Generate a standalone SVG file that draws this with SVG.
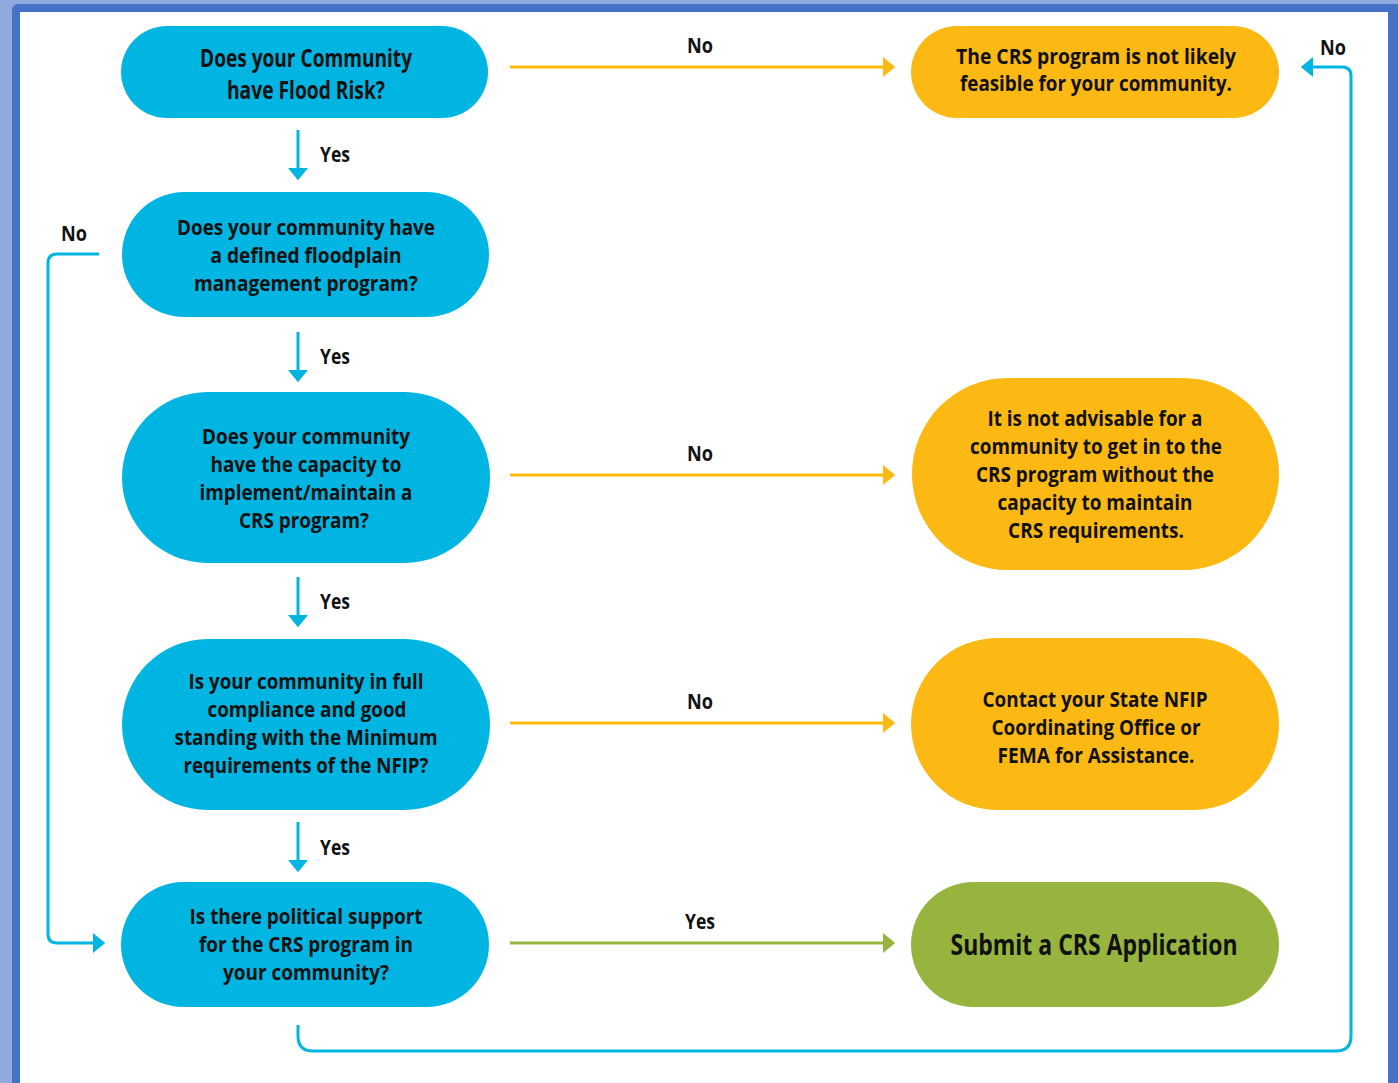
<svg xmlns="http://www.w3.org/2000/svg" width="1398" height="1083" viewBox="0 0 1398 1083">
<style>
.q{fill:#00B5E2}
.o{fill:#FDB913}
.g{fill:#97B53E}
.t{font-family:"Open Sans","Liberation Sans",sans-serif;font-weight:bold;font-size:21px;fill:#111;text-anchor:middle}
.big{font-size:25px}
.huge{font-size:29px}
.lbl{font-family:"Open Sans","Liberation Sans",sans-serif;font-weight:bold;font-size:21px;fill:#111;text-anchor:middle}
.cb{fill:none;stroke:#00B5E2;stroke-width:3}
.co{fill:none;stroke:#FDB913;stroke-width:3}
.cg{fill:none;stroke:#97B53E;stroke-width:3}
</style>
<defs>
<marker id="ab" markerUnits="userSpaceOnUse" markerWidth="14" markerHeight="20" refX="0" refY="9" orient="auto" viewBox="0 0 12 18"><path d="M0,0 L11,9 L0,18 z" fill="#00B5E2"/></marker>
<marker id="ao" markerUnits="userSpaceOnUse" markerWidth="14" markerHeight="20" refX="0" refY="9" orient="auto" viewBox="0 0 12 18"><path d="M0,0 L11,9 L0,18 z" fill="#FDB913"/></marker>
<marker id="ag" markerUnits="userSpaceOnUse" markerWidth="14" markerHeight="20" refX="0" refY="9" orient="auto" viewBox="0 0 12 18"><path d="M0,0 L11,9 L0,18 z" fill="#97B53E"/></marker>
</defs>
<rect x="0" y="0" width="1398" height="1083" fill="#8FAADC"/>
<rect x="12" y="4" width="1400" height="1100" rx="6" fill="#4472C4"/>
<rect x="20" y="12" width="1368" height="1090" fill="#FFFFFF"/>

<g id="connectors">
<path class="cb" d="M298,130 V168" marker-end="url(#ab)"/>
<path class="cb" d="M298,332 V370" marker-end="url(#ab)"/>
<path class="cb" d="M298,577 V615" marker-end="url(#ab)"/>
<path class="cb" d="M298,822 V860" marker-end="url(#ab)"/>
<path class="co" d="M510,67 H883" marker-end="url(#ao)"/>
<path class="co" d="M510,475 H883" marker-end="url(#ao)"/>
<path class="co" d="M510,723 H883" marker-end="url(#ao)"/>
<path class="cg" d="M510,943 H883" marker-end="url(#ag)"/>
<path class="cb" d="M99,254 H57 Q48,254 48,263 V934 Q48,943 57,943 H93" marker-end="url(#ab)"/>
<path class="cb" d="M298,1025 V1036 Q298,1051 313,1051 H1336 Q1351,1051 1351,1036 V76 Q1351,67 1342,67 H1313" marker-end="url(#ab)"/>
<text class="lbl" x="335" y="162" textLength="30" lengthAdjust="spacingAndGlyphs">Yes</text>
<text class="lbl" x="335" y="364" textLength="30" lengthAdjust="spacingAndGlyphs">Yes</text>
<text class="lbl" x="335" y="609" textLength="30" lengthAdjust="spacingAndGlyphs">Yes</text>
<text class="lbl" x="335" y="855" textLength="30" lengthAdjust="spacingAndGlyphs">Yes</text>
<text class="lbl" x="700" y="53" textLength="26" lengthAdjust="spacingAndGlyphs">No</text>
<text class="lbl" x="700" y="461" textLength="26" lengthAdjust="spacingAndGlyphs">No</text>
<text class="lbl" x="700" y="709" textLength="26" lengthAdjust="spacingAndGlyphs">No</text>
<text class="lbl" x="700" y="929" textLength="30" lengthAdjust="spacingAndGlyphs">Yes</text>
<text class="lbl" x="74" y="241" textLength="26" lengthAdjust="spacingAndGlyphs">No</text>
<text class="lbl" x="1333" y="55" textLength="26" lengthAdjust="spacingAndGlyphs">No</text>
</g>

<g id="n1">
<rect class="q" x="121" y="26" width="367" height="92" rx="46"/>
<text class="t big" x="306" y="67" textLength="212" lengthAdjust="spacingAndGlyphs">Does your Community</text>
<text class="t big" x="306" y="99" textLength="158" lengthAdjust="spacingAndGlyphs">have Flood Risk?</text>
</g>
<g id="n2">
<rect class="q" x="122" y="192" width="367" height="125" rx="62.5"/>
<text class="t" x="306" y="235" textLength="258" lengthAdjust="spacingAndGlyphs">Does your community have</text>
<text class="t" x="306" y="263" textLength="191" lengthAdjust="spacingAndGlyphs">a defined floodplain</text>
<text class="t" x="306" y="291" textLength="224" lengthAdjust="spacingAndGlyphs">management program?</text>
</g>
<g id="n3">
<rect class="q" x="122" y="392" width="368" height="171" rx="85.5"/>
<text class="t" x="306" y="444" textLength="208" lengthAdjust="spacingAndGlyphs">Does your community</text>
<text class="t" x="306" y="472" textLength="191" lengthAdjust="spacingAndGlyphs">have the capacity to</text>
<text class="t" x="306" y="500" textLength="213" lengthAdjust="spacingAndGlyphs">implement/maintain a</text>
<text class="t" x="304" y="528" textLength="130" lengthAdjust="spacingAndGlyphs">CRS program?</text>
</g>
<g id="n4">
<rect class="q" x="122" y="639" width="368" height="171" rx="85.5"/>
<text class="t" x="306" y="689" textLength="235" lengthAdjust="spacingAndGlyphs">Is your community in full</text>
<text class="t" x="307" y="717" textLength="199" lengthAdjust="spacingAndGlyphs">compliance and good</text>
<text class="t" x="306" y="745" textLength="263" lengthAdjust="spacingAndGlyphs">standing with the Minimum</text>
<text class="t" x="306" y="773" textLength="245" lengthAdjust="spacingAndGlyphs">requirements of the NFIP?</text>
</g>
<g id="n5">
<rect class="q" x="121" y="882" width="368" height="125" rx="62.5"/>
<text class="t" x="306" y="924" textLength="233" lengthAdjust="spacingAndGlyphs">Is there political support</text>
<text class="t" x="306" y="952" textLength="214" lengthAdjust="spacingAndGlyphs">for the CRS program in</text>
<text class="t" x="306" y="980" textLength="166" lengthAdjust="spacingAndGlyphs">your community?</text>
</g>
<g id="nA">
<rect class="o" x="911" y="26" width="368" height="92" rx="46"/>
<text class="t" x="1096" y="64" textLength="280" lengthAdjust="spacingAndGlyphs">The CRS program is not  likely</text>
<text class="t" x="1096" y="91" textLength="272" lengthAdjust="spacingAndGlyphs">feasible for your community.</text>
</g>
<g id="nB">
<rect class="o" x="912" y="378" width="367" height="192" rx="96"/>
<text class="t" x="1095" y="426" textLength="215" lengthAdjust="spacingAndGlyphs">It is not advisable for a</text>
<text class="t" x="1096" y="454" textLength="252" lengthAdjust="spacingAndGlyphs">community to get in to the</text>
<text class="t" x="1095" y="482" textLength="238" lengthAdjust="spacingAndGlyphs">CRS program without the</text>
<text class="t" x="1095" y="510" textLength="195" lengthAdjust="spacingAndGlyphs">capacity to maintain</text>
<text class="t" x="1096" y="538" textLength="176" lengthAdjust="spacingAndGlyphs">CRS requirements.</text>
</g>
<g id="nC">
<rect class="o" x="911" y="638" width="368" height="172" rx="86"/>
<text class="t" x="1095" y="707" textLength="225" lengthAdjust="spacingAndGlyphs">Contact your State NFIP</text>
<text class="t" x="1096" y="735" textLength="209" lengthAdjust="spacingAndGlyphs">Coordinating Office or</text>
<text class="t" x="1096" y="763" textLength="197" lengthAdjust="spacingAndGlyphs">FEMA for Assistance.</text>
</g>
<g id="nD">
<rect class="g" x="911" y="882" width="368" height="125" rx="62.5"/>
<text class="t huge" x="1094" y="955" textLength="287" lengthAdjust="spacingAndGlyphs">Submit a CRS Application</text>
</g>
</svg>
